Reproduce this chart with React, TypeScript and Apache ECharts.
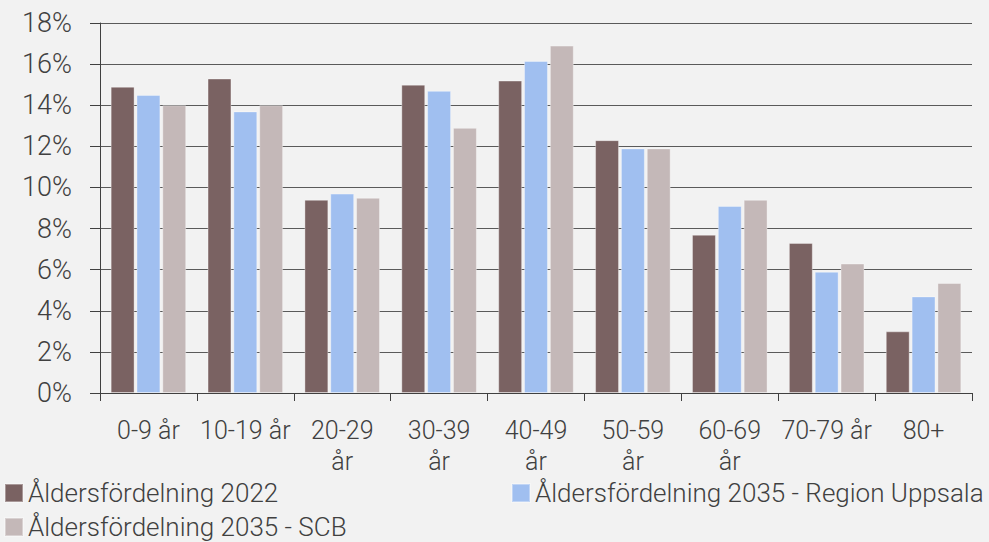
import React, { useEffect, useRef } from "react";
import * as echarts from "echarts";

const categories = ["0-9 år", "10-19 år", "20-29\når", "30-39\når", "40-49\når", "50-59\når", "60-69\når", "70-79 år", "80+"];
const seriesNames = [
  "Åldersfördelning 2022",
  "Åldersfördelning 2035 - Region Uppsala",
  "Åldersfördelning 2035 - SCB",
];
const values2022 = [14.9, 15.3, 9.4, 15.0, 15.2, 12.3, 7.7, 7.3, 3.0];
const valuesRegion2035 = [14.5, 13.7, 9.7, 14.7, 16.15, 11.9, 9.1, 5.9, 4.7];
const valuesScb2035 = [14.0, 14.0, 9.5, 12.9, 16.9, 11.9, 9.4, 6.3, 5.35];
const colors = ["#7a6262", "#a0bff0", "#c4b8b8"];

const FONT = "Roboto";
const TEXT = "#404040";

export default function App() {
  const ref = useRef<HTMLDivElement>(null);

  useEffect(() => {
    document.body.style.margin = "0";
    const chart = echarts.init(ref.current!, null, { renderer: "svg" });
    const legend = (name: string, left: number, top: number) => ({
      data: [name],
      left,
      top,
      orient: "horizontal",
      icon: "rect",
      itemWidth: 18,
      itemHeight: 18,
      itemGap: 0,
      padding: 0,
      selectedMode: false,
      textStyle: { fontFamily: FONT, fontSize: 26, fontWeight: 300, color: TEXT, padding: [0, 0, 0, 0] },
    });
    const bar = (name: string, data: number[], color: string) => ({
      name,
      type: "bar",
      data,
      barGap: "8%",
      barCategoryGap: "22%",
      itemStyle: { color, borderColor: "rgba(255,255,255,0.35)", borderWidth: 1 },
    });
    chart.setOption({
      animation: false,
      backgroundColor: "#f2f2f2",
      color: colors,
      textStyle: { fontFamily: FONT },
      grid: { left: 100, right: 17, top: 23, bottom: 149 },
      legend: [
        legend(seriesNames[0], 4, 480),
        legend(seriesNames[1], 511, 480),
        legend(seriesNames[2], 4, 514),
      ],
      xAxis: {
        type: "category",
        data: categories,
        axisLine: { show: true, lineStyle: { color: "#404040", width: 1 } },
        axisTick: { show: true, length: 8, alignWithLabel: false, lineStyle: { color: "#404040" } },
        axisLabel: {
          interval: 0,
          margin: 22,
          fontFamily: FONT,
          fontSize: 25,
          fontWeight: 300,
          color: TEXT,
          lineHeight: 31,
        },
      },
      yAxis: {
        type: "value",
        min: 0,
        max: 18,
        interval: 2,
        axisLine: { show: true, lineStyle: { color: "#404040", width: 1 } },
        axisTick: { show: true, length: 10, lineStyle: { color: "#404040" } },
        splitLine: { show: true, lineStyle: { color: "#5a5a5a", width: 1.2 } },
        axisLabel: {
          formatter: "{value}%",
          margin: 28,
          fontFamily: FONT,
          fontSize: 27,
          fontWeight: 300,
          color: TEXT,
        },
      },
      series: [
        bar(seriesNames[0], values2022, colors[0]),
        bar(seriesNames[1], valuesRegion2035, colors[1]),
        bar(seriesNames[2], valuesScb2035, colors[2]),
      ],
    });
    return () => chart.dispose();
  }, []);

  return <div ref={ref} style={{ width: 989, height: 542 }} />;
}
